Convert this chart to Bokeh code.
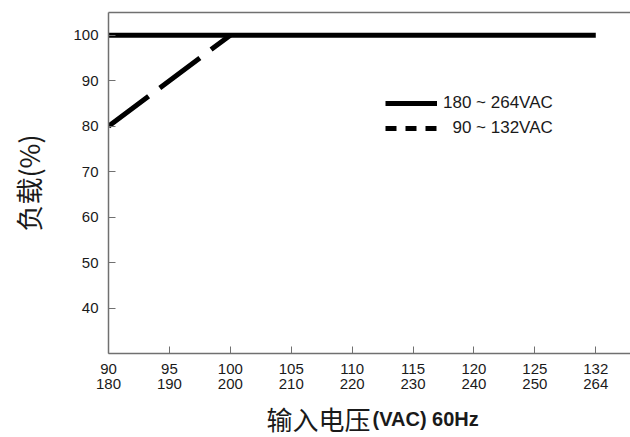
import numpy as np
from bokeh.plotting import figure
from bokeh.layouts import column
from bokeh.models import (Range1d, FixedTicker, LinearAxis, Legend, LegendItem, Label)
from bokeh.embed import file_html
from bokeh.resources import INLINE

# ---- data ----
low_ticks = [90, 95, 100, 105, 110, 115, 120, 125, 132]
high_ticks = [180, 190, 200, 210, 220, 230, 240, 250, 264]
y_ticks = [40, 50, 60, 70, 80, 90, 100]

solid_v = [180, 264]      # 180 ~ 264VAC (high scale)
solid_load = [100, 100]
dash_v = [90, 100]        # 90 ~ 132VAC (low scale)
dash_load = [80, 100]

solid_label = "180 ~ 264VAC"
dash_label = "90 ~ 132VAC"
x_title_cjk = "输入电压"
x_title_latin = "(VAC) 60Hz"
y_title = "负载(%)"

positions = list(range(len(low_ticks)))
solid_x = np.interp(solid_v, high_ticks, positions)
dash_x = np.interp(dash_v, low_ticks, positions)

AX = "#707070"
TXT = "#1a1a1a"

p = figure(frame_width=522, frame_height=341, output_backend="svg",
           toolbar_location=None, x_range=Range1d(0, 8.57), y_range=Range1d(30, 105),
           min_border_left=108, min_border_right=0, min_border_top=12,
           min_border_bottom=42)
p.outline_line_color = None
p.grid.grid_line_color = None

# x axis
xa = p.xaxis[0]
xa.ticker = FixedTicker(ticks=positions)
xa.major_label_overrides = {i: f"{a}\n{b}" for i, (a, b) in enumerate(zip(low_ticks, high_ticks))}
xa.major_tick_in = 7
xa.major_tick_out = 0
xa.minor_tick_line_color = None
xa.axis_line_color = AX
xa.axis_line_width = 1.5
xa.major_tick_line_color = AX
xa.major_label_standoff = 6
xa.major_label_text_font = "Liberation Sans"
xa.major_label_text_font_size = "15px"
xa.major_label_text_line_height = 0.9
xa.major_label_text_color = TXT

# y axis
ya = p.yaxis[0]
ya.ticker = FixedTicker(ticks=y_ticks)
ya.major_tick_in = 7
ya.major_tick_out = 0
ya.minor_tick_line_color = None
ya.axis_line_color = AX
ya.axis_line_width = 1.5
ya.major_tick_line_color = AX
ya.major_label_standoff = 10
ya.major_label_text_font = "Liberation Sans"
ya.major_label_text_font_size = "15px"
ya.major_label_text_color = TXT
ya.axis_label = y_title
ya.axis_label_text_font = "Noto Sans CJK SC"
ya.axis_label_text_font_style = "normal"
ya.axis_label_text_font_size = "27px"
ya.axis_label_text_color = TXT
ya.axis_label_standoff = 22

# top border line
top = LinearAxis(ticker=FixedTicker(ticks=[]), axis_line_color=AX, axis_line_width=1.5,
                 major_tick_line_color=None, minor_tick_line_color=None,
                 major_label_text_font_size="0px", major_label_standoff=0,
                 major_tick_out=0, major_tick_in=0)
p.add_layout(top, "above")

# data lines
r_solid = p.line(solid_x, solid_load, line_color="black", line_width=5)
r_dash = p.line(dash_x, dash_load, line_color="black", line_width=5, line_dash="50 14")

# legend samples (draw nothing in the plot)
leg_solid = p.line([np.nan], [np.nan], line_color="black", line_width=5)
leg_dash = p.line([np.nan], [np.nan], line_color="black", line_width=5, line_dash="11 9")

legend = Legend(items=[LegendItem(label=solid_label, renderers=[leg_solid]),
                       LegendItem(label="\u2007" + dash_label, renderers=[leg_dash])],
                location=(277, 215), glyph_width=52, glyph_height=20, label_height=20,
                spacing=5, padding=0, margin=0, label_standoff=6,
                label_text_font="Liberation Sans", label_text_font_size="17px",
                label_text_color=TXT, background_fill_alpha=0, border_line_color=None)
p.add_layout(legend)

# x axis title strip (mixed fonts); its frame is aligned with the main frame
p2 = figure(width=630, height=42, output_backend="svg", toolbar_location=None,
            x_range=Range1d(0, 1), y_range=Range1d(0, 1),
            x_axis_type=None, y_axis_type=None, min_border=0)
p2.outline_line_color = None
p2.grid.grid_line_color = None
p2.add_layout(Label(x=262, y=19, x_units="screen", y_units="screen", text=x_title_cjk,
                    text_align="right", text_baseline="middle",
                    text_font="Noto Sans CJK SC", text_font_size="26px", text_color=TXT))
p2.add_layout(Label(x=264, y=19, x_units="screen", y_units="screen", text=x_title_latin,
                    text_align="left", text_baseline="middle",
                    text_font="Liberation Sans", text_font_style="bold",
                    text_font_size="20px", text_color=TXT))

layout = column(p, p2, spacing=0)
open("out.html", "w").write(file_html(layout, INLINE))
